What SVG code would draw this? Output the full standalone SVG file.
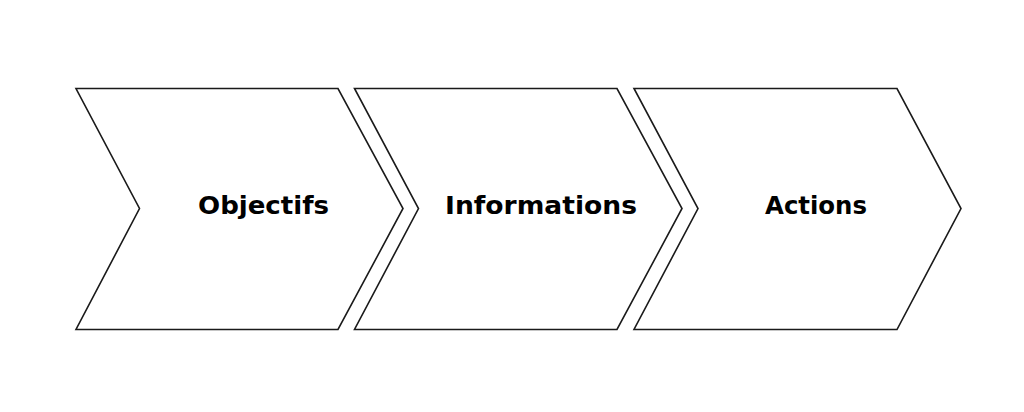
<svg xmlns="http://www.w3.org/2000/svg" width="1024" height="412" viewBox="0 0 1024 412">
<style>
.chev{fill:#ffffff;stroke:#1a1a1a;stroke-width:1.6;stroke-linejoin:miter}
.lbl{font-family:"DejaVu Sans","Verdana",sans-serif;font-weight:bold;font-size:24px;fill:#000000;text-anchor:middle}
</style>
<rect width="1024" height="412" fill="#ffffff"/>
<g id="node-objectifs">
<polygon class="chev" points="76,88.5 338,88.5 403,208.5 338,329.5 76,329.5 139.5,208.5"/>
<text class="lbl" x="263.5" y="213.5" textLength="131" lengthAdjust="spacingAndGlyphs">Objectifs</text>
</g>
<g id="node-informations">
<polygon class="chev" points="354.5,88.5 617,88.5 682,208.5 617,329.5 354.5,329.5 418.5,208.5"/>
<text class="lbl" x="541" y="213.5" textLength="192" lengthAdjust="spacingAndGlyphs">Informations</text>
</g>
<g id="node-actions">
<polygon class="chev" points="634,88.5 897,88.5 961,208.5 897,329.5 634,329.5 698,208.5"/>
<text class="lbl" x="816" y="213.5" textLength="102" lengthAdjust="spacingAndGlyphs">Actions</text>
</g>
<g id="connectors"></g>
</svg>
